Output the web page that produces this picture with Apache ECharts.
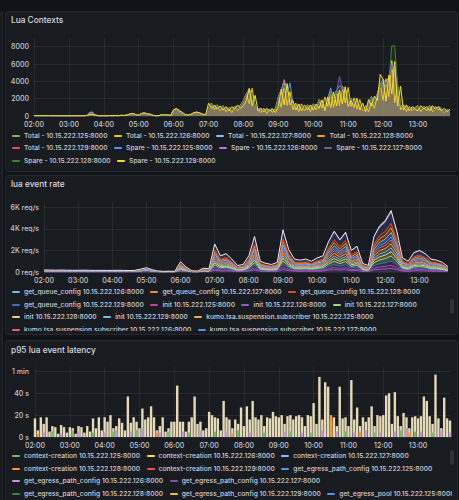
<!DOCTYPE html>
<html><head><meta charset="utf-8">
<script src="https://cdn.jsdelivr.net/npm/echarts/dist/echarts.min.js"></script>
<style>
html,body{margin:0;padding:0;background:#111217;width:459px;height:500px;overflow:hidden;font-family:Inter,"Noto Sans",sans-serif}
.strip{position:absolute;left:0;top:11px;width:2px;height:489px;background:#181b1f;border-right:1px solid #25272c}
.panel{position:absolute;left:5px;width:451px;background:#181b1f;border:1px solid #26282d;border-radius:3px}
.title{position:absolute;left:11px;font-size:8.3px;font-weight:500;color:#d8d9e3;line-height:11px;white-space:nowrap}
.chart{position:absolute;left:5px;width:453px;height:120px}
.lg{position:absolute;left:12px;width:440px;overflow:hidden;font-size:6.7px;font-weight:500;color:#d0d1da}
.row{display:flex;height:12.5px;align-items:center;white-space:nowrap}
.it{display:flex;align-items:center;margin-right:6.5px}
.it i{display:inline-block;width:8px;height:2.4px;border-radius:1px;margin-right:4px}
.sb{position:absolute;left:450px;width:4px;border-radius:2px;background:#303238}
</style></head>
<body>
<div class="strip"></div>
<div class="panel" style="top:11px;height:159px"></div>
<div class="panel" style="top:175px;height:158px"></div>
<div class="panel" style="top:340px;height:170px"></div>
<div class="title" style="top:14.5px">Lua Contexts</div>
<div class="title" style="top:178.5px">lua event rate</div>
<div class="title" style="top:344.5px">p95 lua event latency</div>
<div id="c1" class="chart" style="top:11px"></div>
<div id="c2" class="chart" style="top:175px"></div>
<div id="c3" class="chart" style="top:340px"></div>
<div id="lg1" class="lg" style="top:129.5px;height:38px"></div>
<div id="lg2" class="lg" style="top:286px;height:45px"></div>
<div id="lg3" class="lg" style="top:450px;height:50px"></div>
<div class="sb" style="top:299px;height:15px"></div>
<div class="sb" style="top:450px;height:15px"></div>
<script>
// ---------- tick labels / categories ----------
const hourLabels = ['02:00','03:00','04:00','05:00','06:00','07:00','08:00','09:00','10:00','11:00','12:00','13:00'];
function pad(n){return (n<10?'0':'')+n;}
function makeTimes(stepMin){const t=[];for(let h=2;h<14;h++)for(let m=0;m<60;m+=stepMin)t.push(pad(h)+':'+pad(m));return t;}
const times5 = makeTimes(5);   // 144 slots, 02:00 .. 13:55
const times10 = makeTimes(10); // 72 slots, 02:00 .. 13:50

// ---------- Panel 1: Lua Contexts ----------
const names1 = ['Total - 10.15.222.125:8000','Total - 10.15.222.126:8000','Total - 10.15.222.127:8000','Total - 10.15.222.128:8000','Total - 10.15.222.129:8000','Spare - 10.15.222.125:8000','Spare - 10.15.222.126:8000','Spare - 10.15.222.127:8000','Spare - 10.15.222.128:8000','Spare - 10.15.222.129:8000'];
const colors1 = ['#73bf69','#f2cc0c','#8ab8ff','#ff9830','#f2495c','#5794f2','#b877d9','#705da0','#37872d','#fade2a'];
const total125 = [50,40,40,30,30,40,30,30,20,30,30,30,
30,30,20,30,30,40,40,250,300,120,40,30,
30,30,40,30,50,40,60,50,90,200,250,120,
60,250,300,200,150,50,40,40,120,100,80,50,
600,800,500,300,120,80,150,350,400,300,150,120,
800,1300,1000,1100,800,1000,700,900,600,1000,800,1100,
1600,2400,3000,2200,1100,700,800,500,700,600,800,400,
2000,2900,3500,2600,1600,1300,1000,1200,1100,800,1200,900,
1300,1000,1700,1500,1200,2000,2600,1800,2700,2200,3100,3000,
1600,1900,1400,1700,1100,800,600,1300,2100,1600,2400,3300,
4000,3500,4300,5900,4800,3200,1200,800,1000,700,900,800,
1100,700,1000,800,1100,900,600,1000,800,500,700,400];
const total126 = [60,40,50,30,40,50,30,40,30,40,30,40,
30,40,30,30,40,30,50,150,200,80,40,30,
40,30,50,40,60,40,80,60,100,250,300,150,
80,300,350,250,200,60,40,50,150,120,100,60,
700,850,600,400,150,100,200,400,450,350,200,150,
900,1500,700,1300,600,1200,500,1000,400,1100,600,1300,
1800,2600,1400,3200,1000,800,400,900,300,800,400,900,
2200,1000,3800,1200,2800,700,1500,500,1400,600,1300,500,
1400,700,1900,900,2200,1100,2800,1000,3000,1200,3400,1500,
3300,1100,2100,800,1900,600,1200,500,1500,900,2300,3600,
1800,4300,2200,6400,1500,3500,700,1300,500,1100,600,1000,
1200,500,1100,600,1200,500,1100,700,900,400,800,500];
const total127 = [40,30,40,30,30,30,20,30,30,30,20,30,
20,30,30,20,30,30,40,300,350,100,30,20,
30,20,40,30,40,30,70,50,80,220,260,130,
70,280,320,230,180,50,30,40,130,110,90,40,
650,780,550,350,130,90,180,380,420,320,180,130,
850,1400,1050,1200,850,1100,750,950,650,1050,850,1200,
1700,2500,3100,2300,1150,750,850,550,750,650,850,450,
2100,3000,3600,2900,1700,1400,1050,1300,1150,850,1250,950,
1350,1050,1800,1550,1250,2100,2700,1900,2900,2300,3200,3100,
1700,2000,1450,1800,1150,850,650,1400,2200,1700,2500,3400,
4100,3600,4400,6000,5000,3300,1250,850,1050,750,950,850,
1150,750,1050,850,1150,950,650,1050,850,550,750,450];
const total128 = [50,40,50,40,30,40,30,40,30,30,30,40,
30,30,30,30,30,40,50,200,250,100,40,30,
40,30,50,40,50,40,70,60,90,230,280,140,
70,270,330,240,190,60,40,50,140,110,90,50,
680,820,580,380,140,90,190,390,430,330,190,140,
880,1450,1080,1250,880,1150,780,980,680,1080,880,1250,
1750,2550,3150,2350,1180,780,880,580,780,680,880,480,
2150,3050,3700,2750,1750,1450,1080,1350,1180,880,1280,980,
1380,1080,1850,1580,1280,2150,2750,1950,2950,2350,3300,3200,
1750,2050,1480,1850,1180,880,680,1450,2250,1750,2550,3500,
4200,3700,4500,6100,5100,3400,1280,880,1080,780,980,880,
1180,780,1080,880,1180,980,680,1080,880,580,780,480];
const total129 = [40,30,30,30,30,30,30,30,20,30,20,30,
20,30,20,30,20,30,40,220,260,90,30,20,
30,20,40,30,40,30,60,50,80,210,240,110,
60,240,290,210,160,40,30,40,110,100,80,40,
580,760,520,330,120,80,160,340,380,290,160,110,
780,1350,1000,1150,780,1050,720,920,620,1000,780,1150,
1650,2450,3050,2250,1100,720,820,520,720,620,820,420,
2050,2950,3550,2650,1650,1350,1000,1250,1100,820,1200,920,
1300,1000,1750,1500,1200,2050,2650,1850,2800,2250,3150,3050,
1650,1950,1400,1750,1100,820,620,1350,2150,1650,2450,3400,
4100,3600,4350,5800,4900,3300,1200,820,1000,720,920,820,
1100,720,1000,820,1100,920,620,1000,820,520,720,420];
const spare125 = [50,40,40,30,40,40,30,30,30,30,30,30,
30,30,30,30,30,40,60,380,500,150,40,30,
30,30,40,30,50,40,60,60,90,240,270,130,
70,290,340,240,190,50,40,40,130,110,90,50,
640,800,560,360,130,90,180,370,410,320,170,130,
820,1400,1050,1200,820,1100,760,950,660,1050,820,1200,
1700,2500,3100,2300,1150,760,860,560,760,660,860,460,
2100,2900,3300,2700,3800,1500,1050,1300,1150,860,1250,950,
1350,1050,1800,1550,1250,2100,3250,1900,2800,2300,3200,3100,
1700,2000,1450,1800,1150,860,660,1400,2200,1700,2500,3400,
4100,3700,4400,6000,4900,3300,1250,860,1050,760,950,860,
1150,760,1050,860,1150,950,660,1050,860,560,760,460];
const spare126 = [40,30,40,30,30,30,20,30,30,30,20,30,
20,30,30,20,30,30,50,350,420,130,30,20,
30,20,40,30,40,30,70,50,80,220,260,130,
70,280,320,230,180,50,30,40,130,110,90,40,
720,880,580,370,130,90,180,380,430,330,180,130,
860,1420,1060,1220,860,1120,760,960,660,1060,860,1220,
1720,2520,3120,2320,1160,760,860,560,760,660,860,460,
2200,3000,4200,3000,1800,1400,1060,1320,1160,860,1260,960,
1360,1060,1820,1560,1260,2120,2720,1920,2920,3500,3300,3100,
1720,2020,1460,1820,1160,860,660,1420,2220,1720,2520,3700,
4200,3800,4500,6100,5000,3400,1260,860,1060,760,960,860,
1160,760,1060,860,1160,960,660,1060,860,560,760,460];
const spare127 = [40,30,30,30,30,30,30,30,20,30,20,30,
20,30,20,30,20,30,40,280,330,100,30,20,
30,20,40,30,40,30,60,50,80,210,240,110,
60,240,290,210,160,40,30,40,110,100,80,40,
620,780,540,340,120,80,160,340,380,290,160,110,
800,1380,1020,1170,800,1070,740,940,640,1020,800,1170,
1670,2470,3070,2270,1120,740,840,540,740,640,840,440,
2070,2970,3570,2670,1670,1370,1020,1270,1120,840,1220,940,
1320,1020,1770,1520,1220,2070,2670,1870,2820,4560,3170,3070,
1670,1970,1420,1770,1120,840,640,1370,2170,1670,2470,3420,
4120,3620,4370,5820,4920,3320,1220,840,1020,740,940,840,
1120,740,1020,840,1120,940,640,1020,840,540,740,440];
const spare128 = [40,30,40,30,30,40,30,30,30,30,30,30,
30,30,30,30,30,30,40,240,280,100,30,20,
30,30,40,30,40,40,60,50,80,220,250,120,
60,250,300,220,170,50,30,40,120,100,80,40,
640,800,560,350,130,90,170,360,400,310,170,120,
820,1400,1040,1200,820,1100,760,960,660,1040,820,1200,
1700,2500,3100,2300,1140,760,860,560,760,660,860,460,
2100,3000,3600,2700,1700,1400,1040,1300,1140,860,1240,960,
1340,1040,1800,1540,1240,2100,2700,1900,2850,2300,3250,3150,
1700,2000,1440,1800,1140,860,660,1400,2200,1700,2500,3450,
4150,3650,4000,8100,8100,3600,1240,860,1040,760,960,860,
1140,760,1040,860,1140,960,660,1040,860,560,760,460];
const spare129 = [50,40,40,40,30,40,30,40,30,40,30,30,
30,30,30,30,30,40,50,180,220,90,40,30,
40,30,50,40,60,40,70,60,100,240,290,140,
80,290,340,240,190,60,40,50,140,120,100,60,
690,840,590,390,140,100,190,390,440,340,190,140,
1480,890,1280,790,1180,690,1090,590,1090,790,1280,890,
1200,1780,3180,1190,2380,590,890,490,890,590,790,400,
1080,3080,1280,3750,1280,1780,690,1380,590,1280,690,1280,
690,1390,880,1880,590,2180,980,2780,1180,2980,1380,3380,
1080,1780,990,2080,690,1490,490,1880,1190,2280,1780,4800,
4250,1700,4700,2550,6300,1150,3450,690,1290,590,1090,790,
590,1190,790,1090,590,1190,790,1090,590,890,490,790];
const values1 = [total125,total126,total127,total128,total129,spare125,spare126,spare127,spare128,spare129];
const yTicks1 = {min:0,max:9000,interval:2000};

// ---------- Panel 2: lua event rate (stacked, bottom -> top) ----------
const names2 = ['init 10.15.222.126:8000','init 10.15.222.125:8000','get_queue_config 10.15.222.129:8000','init 10.15.222.127:8000','init 10.15.222.128:8000','init 10.15.222.129:8000','kumo.tsa.suspension.subscriber 10.15.222.125:8000','kumo.tsa.suspension.subscriber 10.15.222.126:8000','kumo.tsa.suspension.subscriber 10.15.222.127:8000','get_queue_config 10.15.222.126:8000','get_queue_config 10.15.222.127:8000','get_queue_config 10.15.222.128:8000','kumo.tsa.suspension.subscriber 10.15.222.128:8000','kumo.tsa.suspension.subscriber 10.15.222.129:8000'];
const colors2 = ['#8f5cc8','#b845a8','#3f6cc4','#9fd58c','#f2d872','#6cbfea','#f5a442','#ea6460','#5a8ff0','#7eb6e0','#f08c3c','#d9531e','#2e3058','#ece8f2'];
const rate_init126 = [5,5,5,5,5,5,5,5,5,5,5,5,5,5,5,5,5,10,15,8,3,2,2,2,57,27,6,5,21,18,156,90,102,72,36,42,90,198,60,48,42,54,234,126,72,66,72,60,78,90,168,228,180,222,120,144,48,36,198,258,288,342,228,78,60,108,120,102,72,66,54,30];
const rate_init125 = [5,5,5,5,5,5,5,5,5,5,5,5,5,5,5,5,5,10,15,8,3,2,2,2,48,23,5,4,18,15,130,75,85,60,30,35,75,165,50,40,35,45,195,105,60,55,60,50,65,75,140,190,150,185,100,120,40,30,165,215,240,285,190,65,50,90,100,85,60,55,45,25];
const rate_gqc129 = [5,5,5,5,5,5,5,5,5,5,5,5,5,5,5,5,5,10,15,8,3,2,2,2,67,32,7,6,25,21,182,105,119,84,42,49,105,231,70,56,49,63,273,147,84,77,84,70,91,105,196,266,210,259,140,168,56,42,231,301,336,399,266,91,70,126,140,119,84,77,63,35];
const rate_init127 = [70,65,60,65,60,55,55,60,55,50,55,50,50,55,50,45,50,80,120,70,25,20,25,20,76,36,8,6,28,24,208,120,136,96,48,56,120,264,80,64,56,72,312,168,96,88,96,80,104,120,224,304,240,296,160,192,64,48,264,344,384,456,304,104,80,144,160,136,96,88,72,40];
const rate_init128 = [6,5,6,5,5,6,5,5,6,5,5,5,5,6,5,5,5,12,16,8,3,2,3,2,70,30,8,5,24,22,175,110,115,88,40,50,100,240,68,58,47,60,280,140,86,74,88,68,95,100,200,260,215,250,145,160,58,40,240,295,330,410,260,95,68,130,135,122,80,80,60,33];
const rate_init129 = [5,5,5,5,5,5,5,5,5,5,5,5,5,5,5,5,5,10,15,8,3,2,2,2,55,29,6,5,20,19,150,95,98,75,34,44,88,205,58,50,40,56,228,130,70,68,70,62,75,94,172,222,185,215,118,150,46,38,192,265,282,350,222,80,58,112,118,105,70,68,52,31];
const rate_kumo125 = [5,5,5,5,5,5,5,5,5,5,5,5,5,5,5,5,5,10,15,8,3,2,2,2,64,34,7,6,26,20,190,100,124,80,44,47,110,225,72,54,51,61,268,152,82,79,80,72,88,108,190,272,205,265,136,172,54,44,225,308,330,392,270,88,72,122,144,115,86,75,65,34];
const rate_kumo126 = [5,5,5,5,5,5,5,5,5,5,5,5,5,5,5,5,5,10,15,8,3,2,2,2,59,26,6,5,22,17,160,87,105,70,37,41,92,192,62,47,43,52,240,122,74,64,74,58,80,87,165,232,176,228,122,140,50,35,202,252,292,336,232,76,62,105,122,100,74,64,56,29];
const rate_kumo127 = [5,5,5,5,5,5,5,5,5,5,5,5,5,5,5,5,5,10,15,8,3,2,2,2,46,24,5,4,17,16,126,78,82,62,29,36,72,170,48,41,34,46,190,108,58,56,58,51,63,77,136,195,146,190,97,123,39,31,160,220,236,290,186,66,48,92,98,87,58,56,44,26];
const rate_gqc126 = [5,5,5,5,5,5,5,5,5,5,5,5,5,5,5,5,5,10,15,8,3,2,2,2,69,31,7,6,24,22,178,108,116,86,41,50,102,236,69,57,48,64,278,144,85,76,86,69,93,103,198,262,212,255,142,165,57,41,235,298,340,404,262,93,69,128,137,121,82,78,62,36];
const rate_gqc127 = [40,40,35,40,35,35,35,40,35,35,35,35,35,35,35,30,35,50,70,40,15,10,15,10,78,35,8,6,27,25,212,118,140,94,49,55,124,260,82,63,57,70,318,165,98,86,98,78,106,118,228,300,244,292,163,189,65,47,268,340,388,450,308,102,82,142,162,134,98,86,74,39];
const rate_gqc128 = [5,5,5,5,5,5,5,5,5,5,5,5,5,5,5,5,5,10,15,8,3,2,2,2,66,33,7,6,25,20,185,103,121,83,43,48,107,228,71,55,50,62,270,149,83,78,83,71,90,106,194,268,208,261,138,170,55,43,228,304,334,402,264,92,71,124,141,118,85,76,64,35];
const rate_kumo128 = [15,12,12,12,12,10,10,10,10,8,10,8,8,10,8,8,8,25,40,15,5,5,5,5,152,72,16,13,56,48,416,240,272,192,96,112,240,528,160,128,112,144,624,336,192,176,192,160,208,240,448,608,480,592,320,384,128,96,528,688,768,912,608,208,160,288,320,272,192,176,144,80];
const rate_kumo129 = [5,5,5,5,5,5,5,5,5,5,5,5,5,5,5,5,5,10,15,8,3,2,2,2,50,22,5,4,19,14,135,72,88,58,31,34,78,160,52,39,36,44,200,102,62,54,62,49,67,73,144,186,154,182,104,118,42,29,170,210,245,280,195,64,52,88,104,83,62,54,46,24];
const values2 = [rate_init126,rate_init125,rate_gqc129,rate_init127,rate_init128,rate_init129,rate_kumo125,rate_kumo126,rate_kumo127,rate_gqc126,rate_gqc127,rate_gqc128,rate_kumo128,rate_kumo129];
const yTicks2 = {min:0,max:6500,interval:2000};
// legend rows as shown (scrolled list)
const legendNames2 = [
 ['get_queue_config 10.15.222.126:8000','get_queue_config 10.15.222.127:8000','get_queue_config 10.15.222.128:8000'],
 ['get_queue_config 10.15.222.129:8000','init 10.15.222.125:8000','init 10.15.222.126:8000','init 10.15.222.127:8000'],
 ['init 10.15.222.128:8000','init 10.15.222.129:8000','kumo.tsa.suspension.subscriber 10.15.222.125:8000'],
 ['kumo.tsa.suspension.subscriber 10.15.222.126:8000','kumo.tsa.suspension.subscriber 10.15.222.127:8000']];

// ---------- Panel 3: p95 lua event latency (seconds) ----------
const lat_main = [17,6,18,12,18,5,10,9,3,11,9,4,
9,8,3,10,9,4,10,5,17,8,18,6,
18,14,20,8,10,17,13,6,37,13,18,14,
8,26,16,18,28,18,6,10,18,5,8,14,
14,47,14,14,5,14,18,37,12,14,6,8,
23,20,18,17,6,33,18,16,8,16,12,27,
10,28,16,33,18,16,20,10,18,17,23,19,
18,20,12,19,20,16,19,20,18,10,20,19,
31,12,55,16,50,46,16,18,10,46,17,18,
10,52,16,27,10,18,14,18,28,10,20,19,
20,38,40,12,41,19,10,22,18,8,18,19,
17,19,37,33,19,12,57,17,8,36,17,15];
const lat_purple = [0,0,0,4,0,0,0,0,0,3,0,0,
0,0,0,5,0,0,0,0,0,0,0,0,
4,0,0,0,6,0,0,0,0,5,0,0,
0,8,0,0,0,0,0,4,0,0,0,0,
0,0,0,5,0,0,0,0,0,6,0,0,
0,0,0,0,0,0,5,0,0,0,0,0,
0,0,4,0,0,0,0,0,0,0,0,0,
0,0,5,0,0,0,0,0,4,0,0,0,
0,0,0,6,0,0,0,0,5,0,0,0,
0,0,4,0,0,0,6,0,0,0,0,4,
0,0,0,0,5,0,0,0,8,0,0,0,
0,5,0,0,0,0,0,0,6,0,0,4];
const lat_green = [0,0,0,0,0,0,5,0,0,0,0,0,
0,6,0,0,0,0,0,0,4,0,0,0,
0,0,0,5,0,0,0,0,0,0,0,6,
0,0,0,0,0,0,0,0,0,0,5,0,
0,0,0,0,0,4,0,0,0,0,0,0,
0,0,5,0,0,0,0,0,0,0,6,0,
0,0,0,0,0,0,0,4,0,0,0,0,
0,0,0,0,5,0,0,0,0,0,0,4,
0,0,0,0,0,0,7,0,0,0,0,5,
0,0,0,0,0,0,0,0,0,4,0,0,
0,0,0,0,0,0,6,0,0,0,0,5,
0,0,0,0,0,4,0,0,0,0,0,0];
const lat_orange = [0,3,0,0,0,0,0,0,0,0,0,0,
0,0,0,0,0,0,0,0,0,0,0,0,
0,0,0,0,0,0,0,0,0,0,0,0,
0,0,0,0,0,0,4,0,0,0,0,0,
0,0,0,0,0,0,0,0,0,0,0,0,
0,0,0,0,0,0,0,0,3,0,0,0,
0,0,0,0,0,0,0,0,0,0,0,0,
0,0,0,0,0,0,0,0,0,0,0,0,
0,0,0,0,0,0,20,0,0,0,0,0,
0,0,0,0,5,0,0,0,0,0,0,0,
0,0,0,0,0,0,0,0,0,4,0,0,
0,0,0,0,0,0,0,0,0,0,0,0];
const names3 = ['get_egress_pool 10.15.222.126:8000','get_egress_path_config 10.15.222.126:8000','context-creation 10.15.222.125:8000','context-creation 10.15.222.128:8000'];
const colors3 = ['#e6dbb9','#ca95e5','#73bf69','#ff9830'];
const values3 = [lat_main,lat_purple,lat_green,lat_orange];
const yTicks3 = {min:0,max:64,interval:20};
const legendNames3 = [
 ['context-creation 10.15.222.125:8000','context-creation 10.15.222.126:8000','context-creation 10.15.222.127:8000'],
 ['context-creation 10.15.222.128:8000','context-creation 10.15.222.129:8000','get_egress_path_config 10.15.222.125:8000'],
 ['get_egress_path_config 10.15.222.126:8000','get_egress_path_config 10.15.222.127:8000'],
 ['get_egress_path_config 10.15.222.128:8000','get_egress_path_config 10.15.222.129:8000','get_egress_pool 10.15.222.125:8000']];
const legendColors3 = [['#73bf69','#fade2a','#8ab8ff'],['#ff9830','#f2495c','#5794f2'],['#ca95e5','#705da0'],['#37872d','#f2cc0c','#5794f2']];
const legendColors2 = [['#7eb6e0','#f08c3c','#d9531e'],['#3f6cc4','#b845a8','#8f5cc8','#9fd58c'],['#f2d872','#6cbfea','#f5a442'],['#ea6460','#5a8ff0']];
const legendRows1 = [[0,1,2,3],[4,5,6,7],[8,9]];

// ---------- helpers ----------
const AX = '#c7c8d1', GRID = 'rgba(204,204,220,0.085)', FONT = 'Inter';
function xAxisOf(cats, step){
  return {type:'category',data:cats,boundaryGap:false,axisLine:{show:false},axisTick:{show:false},
    axisLabel:{interval:step-1,color:AX,fontSize:7,fontWeight:500,margin:4.5,fontFamily:FONT},
    splitLine:{show:true,interval:step-1,lineStyle:{color:GRID,width:1}}};
}
function yAxisOf(t, fmt, margin){
  return {type:'value',min:t.min,max:t.max,interval:t.interval,axisLine:{show:false},axisTick:{show:false},
    axisLabel:{color:AX,fontSize:7,fontWeight:500,margin:margin,fontFamily:FONT,formatter:fmt,showMaxLabel:false},
    splitLine:{lineStyle:{color:GRID,width:1},showMaxLine:false}};
}
function mk(id){return echarts.init(document.getElementById(id),null,{renderer:'svg'});}

// Panel 1
mk('c1').setOption({animation:false,
  grid:{left:29,right:8,top:27,bottom:15,outerBoundsMode:'none'},
  xAxis:xAxisOf(times5,12),
  yAxis:yAxisOf(yTicks1,v=>String(v),5),
  series:values1.map((d,i)=>({type:'line',name:names1[i],data:d,symbol:'none',silent:true,
    lineStyle:{width:1,color:colors1[i]},itemStyle:{color:colors1[i]},areaStyle:{color:colors1[i],opacity:0.14}}))
});
// Panel 2
mk('c2').setOption({animation:false,
  grid:{left:39,right:10,top:27,bottom:23,outerBoundsMode:'none'},
  xAxis:xAxisOf(times10,6),
  yAxis:yAxisOf(yTicks2,v=>v===0?'0 req/s':(v/1000)+'K req/s',5),
  series:values2.map((d,i)=>({type:'line',name:names2[i],data:d,stack:'rate',symbol:'none',silent:true,
    lineStyle:{width:1,color:colors2[i]},itemStyle:{color:colors2[i]},
    areaStyle:{color:colors2[i],opacity:i===12?0.75:(i===13?0.6:0.28)}}))
});
// Panel 3
mk('c3').setOption({animation:false,
  grid:{left:30,right:8,top:27,bottom:23,outerBoundsMode:'none'},
  xAxis:xAxisOf(times5,12),
  yAxis:yAxisOf(yTicks3,v=>v===0?'0 s':(v>=60?'1 min':v+' s'),6),
  series:values3.map((d,i)=>({type:'bar',name:names3[i],data:d,barWidth:2.4,barGap:'-100%',silent:true,
    itemStyle:{color:colors3[i]}}))
});

// legends (HTML)
function buildLegend(id, rows){
  const el=document.getElementById(id);
  rows.forEach(r=>{const row=document.createElement('div');row.className='row';
    r.forEach(([name,col])=>{const it=document.createElement('span');it.className='it';
      const m=document.createElement('i');m.style.background=col;it.appendChild(m);
      it.appendChild(document.createTextNode(name));row.appendChild(it);});
    el.appendChild(row);});
}
buildLegend('lg1', legendRows1.map(r=>r.map(k=>[names1[k],colors1[k]])));
buildLegend('lg2', legendNames2.map((r,ri)=>r.map((n,ci)=>[n,legendColors2[ri][ci]])));
buildLegend('lg3', legendNames3.map((r,ri)=>r.map((n,ci)=>[n,legendColors3[ri][ci]])));
</script>
</body></html>
